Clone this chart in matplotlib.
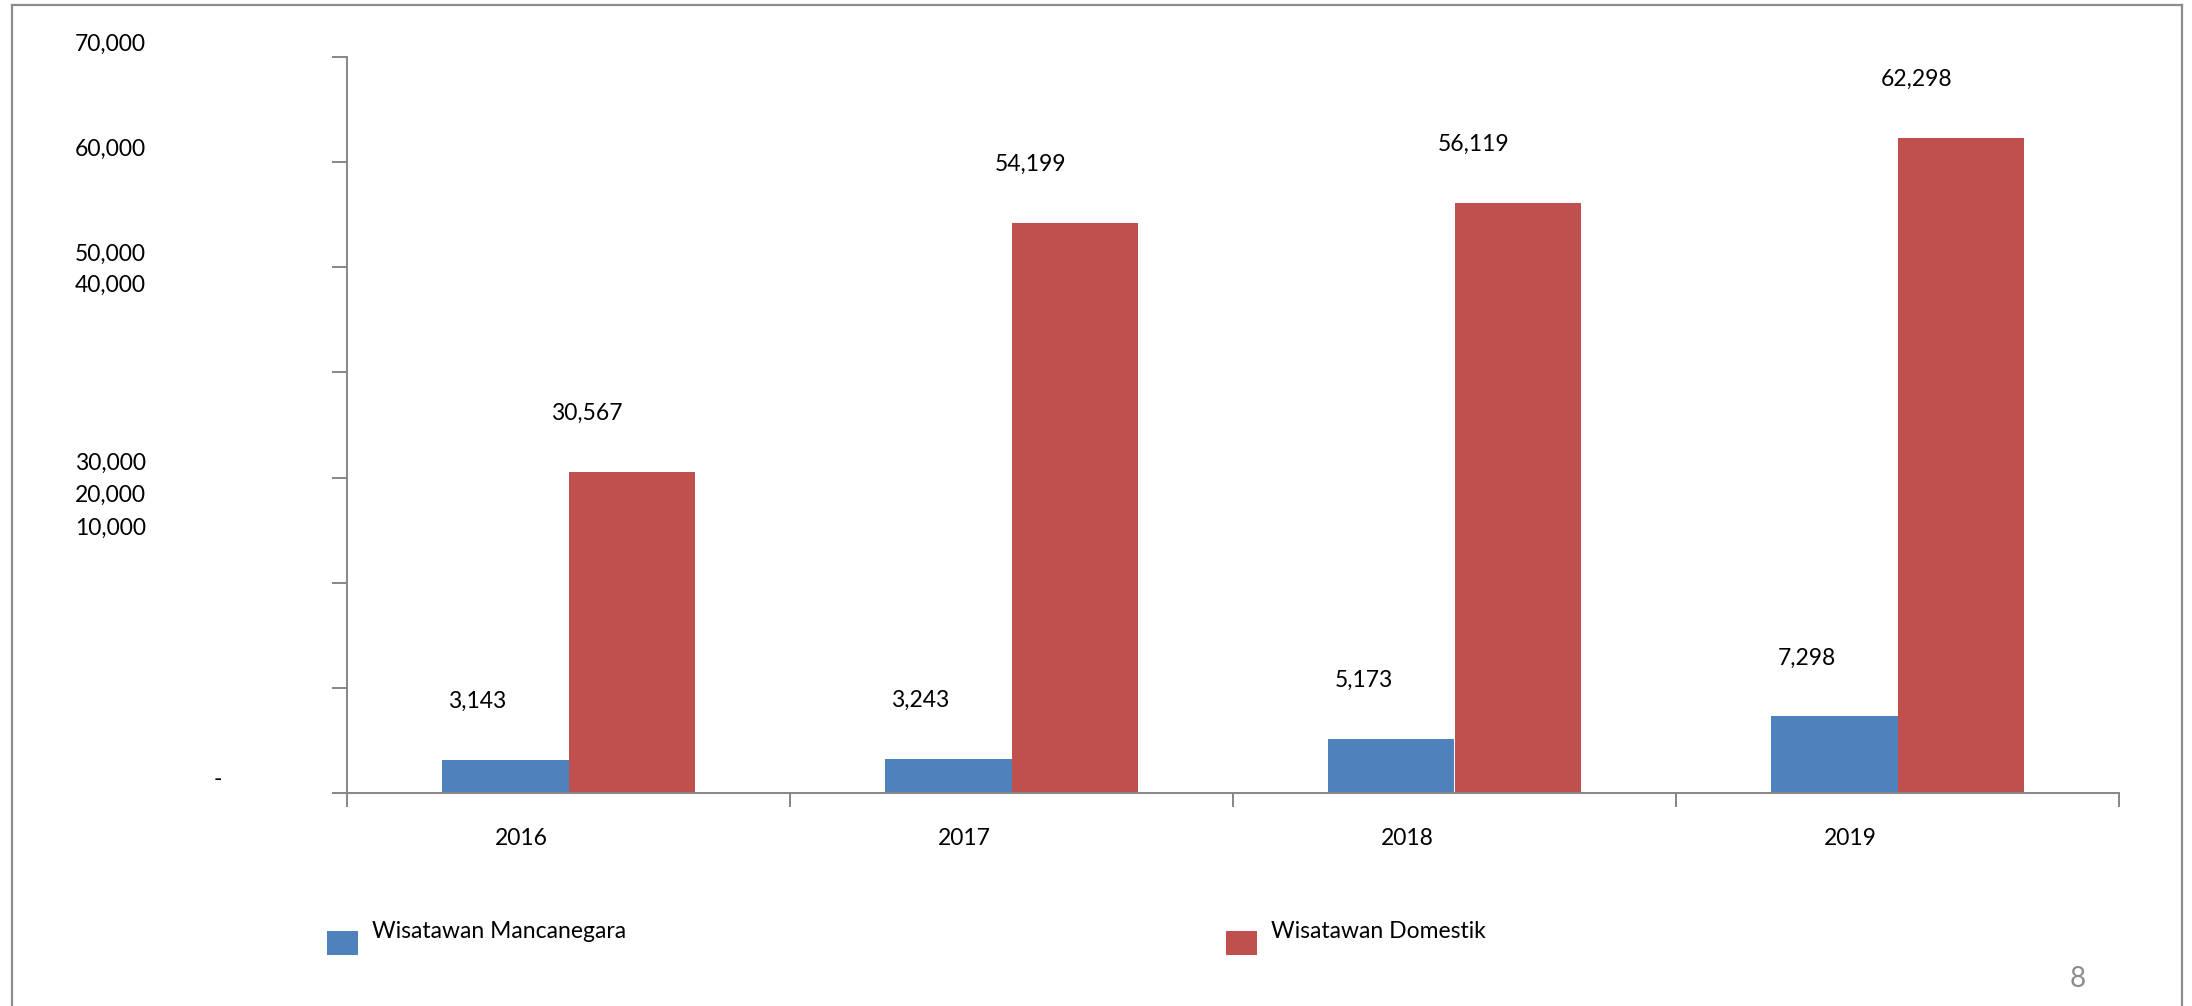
import matplotlib
matplotlib.use("Agg")
import matplotlib.pyplot as plt
from matplotlib.patches import Rectangle
from matplotlib.lines import Line2D
import numpy as np

plt.rcParams['font.family'] = ['Lato', 'DejaVu Sans']

# ---- data ----
years = ['2016', '2017', '2018', '2019']
mancanegara = [3143, 3243, 5173, 7298]
domestik = [30567, 54199, 56119, 62298]
series_names = ['Wisatawan Mancanegara', 'Wisatawan Domestik']
ytick_values = [0, 10000, 20000, 30000, 40000, 50000, 60000, 70000]
# y-axis labels as they appear (misplaced in the original chart)
ytick_label_text = ['70,000', '60,000', '50,000', '40,000', '30,000', '20,000', '10,000']
ytick_label_y = [71200, 61200, 51200, 48270, 31330, 28270, 25200]
zero_label_text = '-'
zero_label_y = 1300
page_number = '8'

BLUE = '#4F81BD'
RED = '#C0504D'
AXIS = '#868686'
W, H = 2192, 1006
DPI = 100

fig = plt.figure(figsize=(W / DPI, H / DPI), dpi=DPI)
fig.patch.set_facecolor('white')

ax = fig.add_axes([347 / W, 1 - 793 / H, 1772 / W, (793 - 57) / H])

x = np.arange(len(years))
bw = 0.285
ax.bar(x - bw / 2, mancanegara, bw, color=BLUE, label=series_names[0])
ax.bar(x + bw / 2, domestik, bw, color=RED, label=series_names[1])

ax.set_xlim(-0.5, len(years) - 0.5)
ax.set_ylim(0, 70000)

for s in ['top', 'right']:
    ax.spines[s].set_visible(False)
for s in ['left', 'bottom']:
    ax.spines[s].set_color(AXIS)
    ax.spines[s].set_linewidth(1.4)

ax.set_yticks(ytick_values)
ax.set_yticklabels([])
ax.tick_params(axis='y', direction='out', length=11, width=1.4, color=AXIS)
ax.set_xticks(np.arange(len(years) + 1) - 0.5)
ax.set_xticklabels([])
ax.tick_params(axis='x', direction='out', length=10, width=1.4, color=AXIS)

FS = 16.5
# y labels
for txt, yv in zip(ytick_label_text, ytick_label_y):
    ax.annotate(txt, xy=(0, yv), xycoords=('axes fraction', 'data'),
                xytext=(-145, 0), textcoords='offset points',
                ha='right', va='center', fontsize=FS, color='black')
ax.annotate(zero_label_text, xy=(0, zero_label_y), xycoords=('axes fraction', 'data'),
            xytext=(-93, 0), textcoords='offset points',
            ha='center', va='center', fontsize=FS, color='black')

# x category labels
for i, yr in enumerate(years):
    ax.annotate(yr, xy=(i, 0), xycoords='data', xytext=(-34, -33),
                textcoords='offset points', ha='center', va='center',
                fontsize=FS, color='black')

# data labels
for i, v in enumerate(mancanegara):
    ax.annotate(f'{v:,}', xy=(x[i] - bw / 2, v), xytext=(-20, 42),
                textcoords='offset points', ha='center', va='center',
                fontsize=FS, color='black')
for i, v in enumerate(domestik):
    ax.annotate(f'{v:,}', xy=(x[i] + bw / 2, v), xytext=(-32, 42),
                textcoords='offset points', ha='center', va='center',
                fontsize=FS, color='black')

# legend (manual)
leg_items = [(327, 372, BLUE, series_names[0]), (1226, 1271, RED, series_names[1])]
for sx, tx, col, name in leg_items:
    fig.patches.append(Rectangle((sx / W, 1 - 955 / H), 31 / W, 24 / H,
                                 transform=fig.transFigure, facecolor=col,
                                 edgecolor='none'))
    fig.text(tx / W, 1 - 931 / H, name, ha='left', va='center', fontsize=FS,
             color='black')

# page number
fig.text(2078 / W, 1 - 979 / H, page_number, ha='center', va='center',
         fontsize=20, color='#8C8C8C')

# frame (left, top, right)
bc = '#8C8C8C'
fig.add_artist(Line2D([12 / W, 12 / W], [0, 1 - 5 / H], transform=fig.transFigure,
                      color=bc, linewidth=1.6))
fig.add_artist(Line2D([12 / W, 2182 / W], [1 - 5 / H, 1 - 5 / H],
                      transform=fig.transFigure, color=bc, linewidth=1.6))
fig.add_artist(Line2D([2182 / W, 2182 / W], [0, 1 - 5 / H], transform=fig.transFigure,
                      color=bc, linewidth=1.6))

fig.savefig('out.png', dpi=DPI, facecolor='white')
